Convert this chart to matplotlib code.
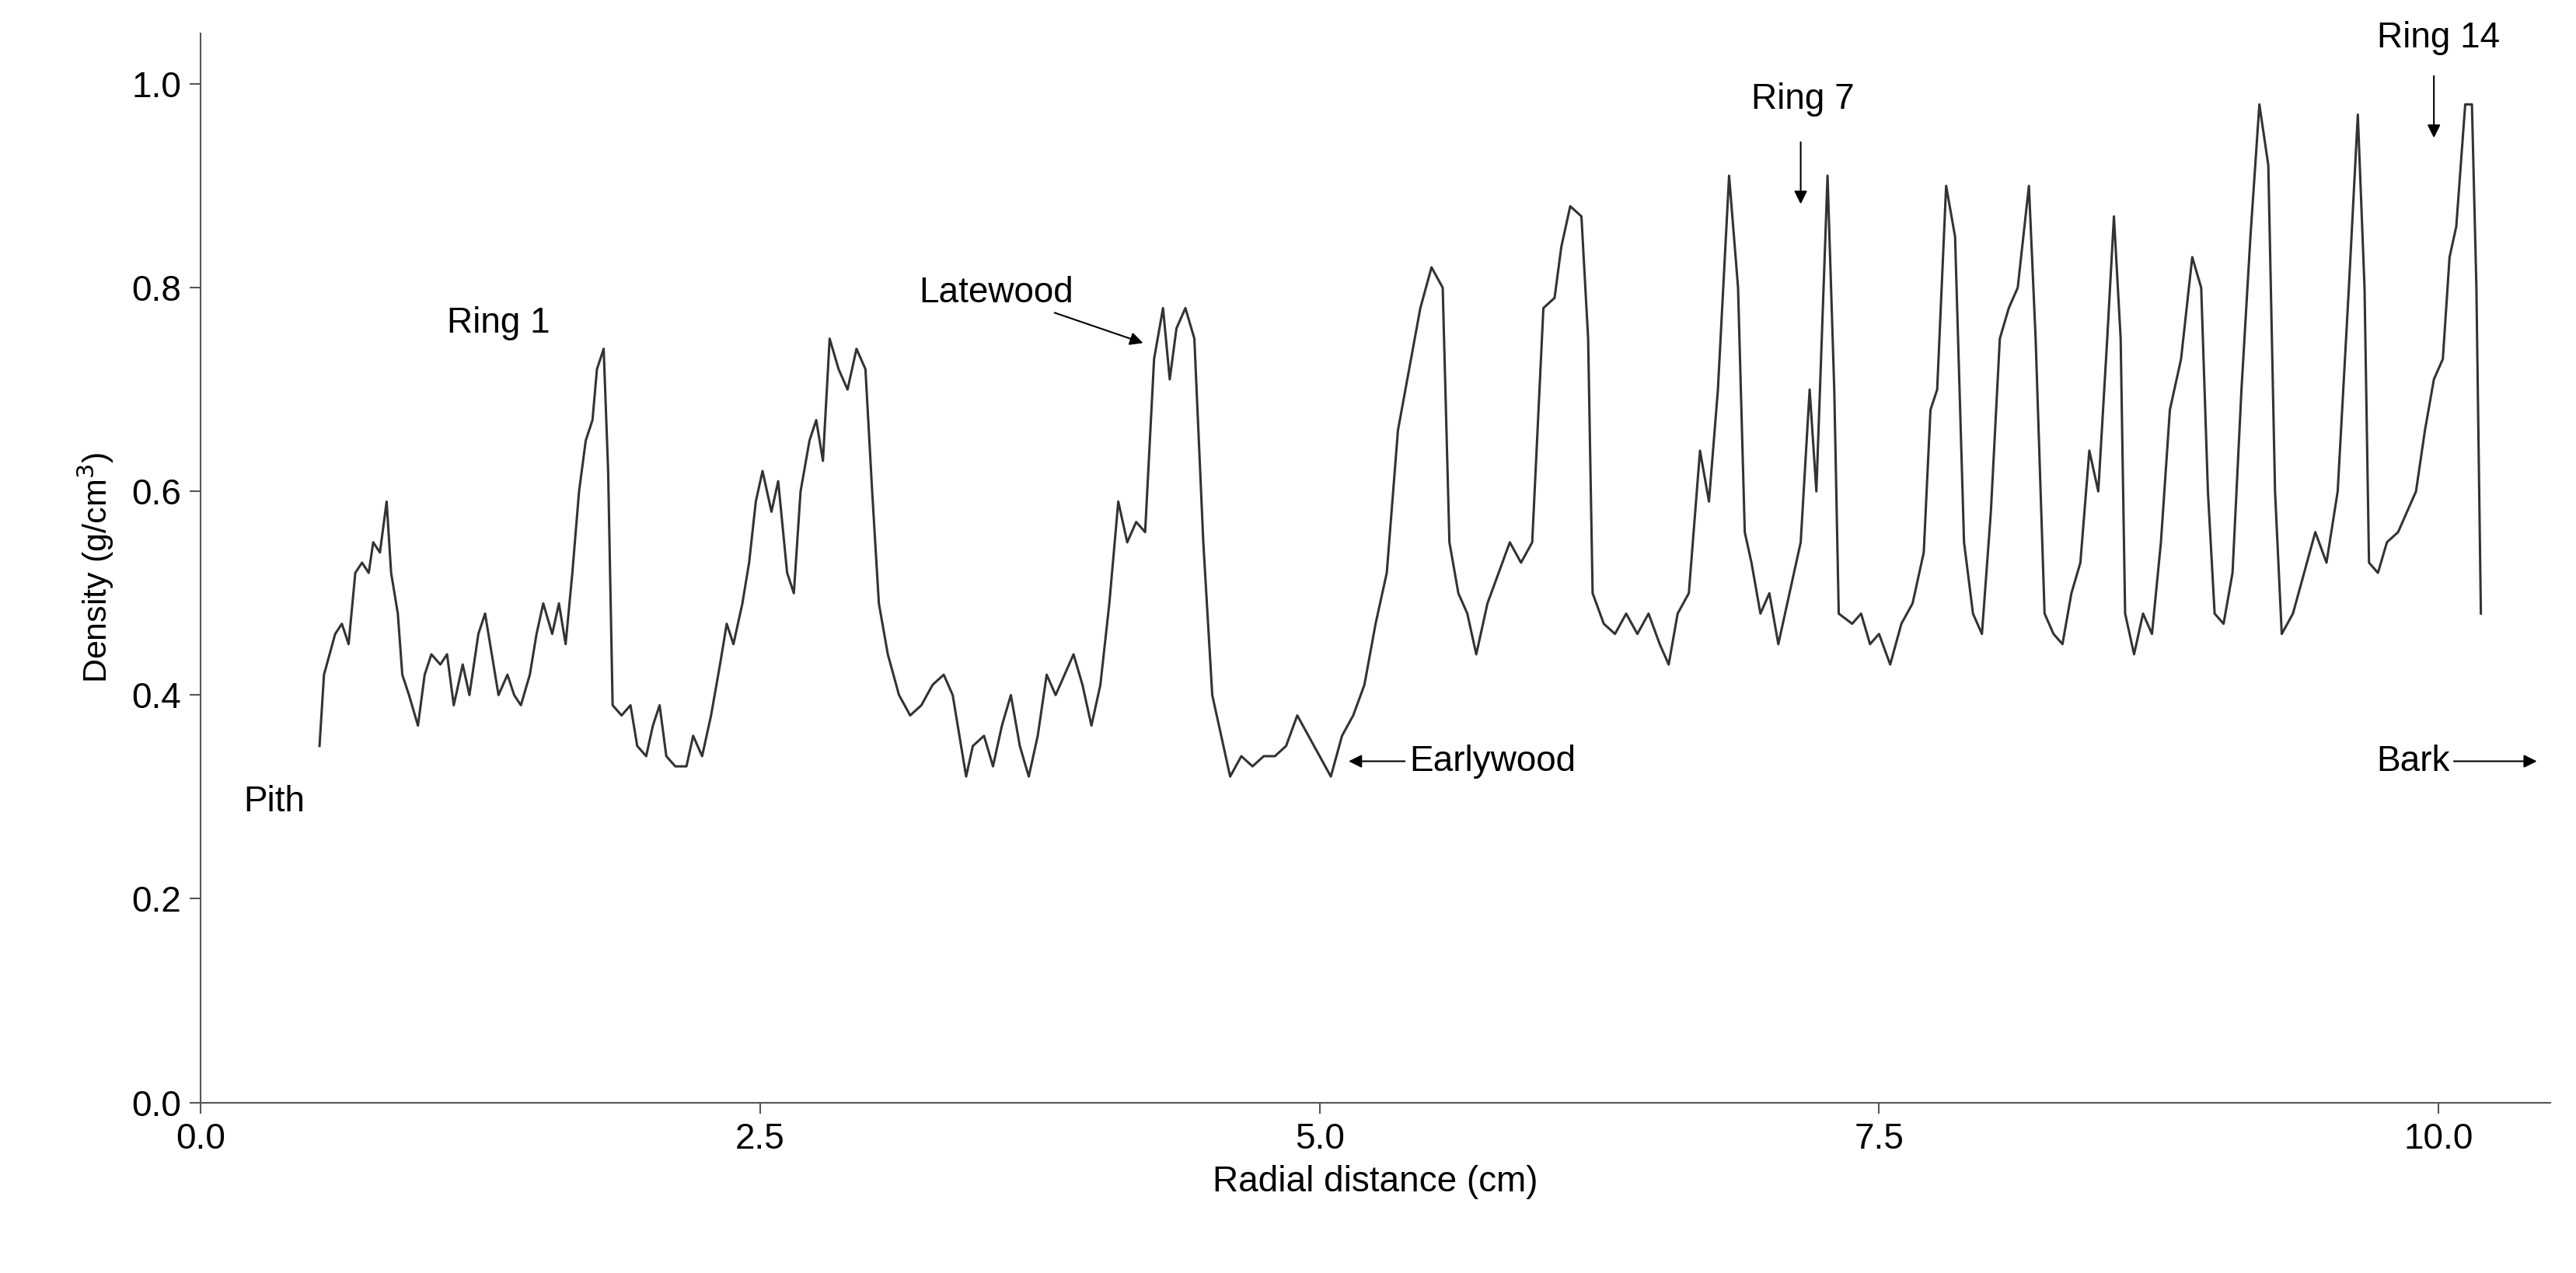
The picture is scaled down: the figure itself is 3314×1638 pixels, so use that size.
import matplotlib
matplotlib.use("Agg")
import matplotlib.pyplot as plt

x = [0.53,0.55,0.6,0.63,0.66,0.69,0.72,0.75,0.77,0.8,0.83,0.85,0.88,0.9,0.93,0.97,1.0,1.03,1.07,1.1,1.13,1.17,1.2,1.24,1.27,1.3,1.33,1.37,1.4,1.43,1.47,1.5,1.53,1.57,1.6,1.63,1.66,1.69,1.72,1.75,1.77,1.8,1.82,1.84,1.88,1.92,1.95,1.99,2.02,2.05,2.08,2.12,2.17,2.2,2.24,2.28,2.32,2.35,2.38,2.42,2.45,2.48,2.51,2.55,2.58,2.62,2.65,2.68,2.72,2.75,2.78,2.81,2.85,2.89,2.93,2.97,3.0,3.03,3.07,3.12,3.17,3.22,3.27,3.32,3.36,3.39,3.42,3.45,3.5,3.54,3.58,3.62,3.66,3.7,3.74,3.78,3.82,3.86,3.9,3.94,3.98,4.02,4.06,4.1,4.14,4.18,4.22,4.26,4.3,4.33,4.36,4.4,4.44,4.48,4.52,4.56,4.6,4.65,4.7,4.75,4.8,4.85,4.9,4.95,5.0,5.05,5.1,5.15,5.2,5.25,5.3,5.35,5.4,5.45,5.5,5.55,5.58,5.62,5.66,5.7,5.75,5.8,5.85,5.9,5.95,6.0,6.05,6.08,6.12,6.17,6.2,6.22,6.27,6.32,6.37,6.42,6.47,6.52,6.56,6.6,6.65,6.7,6.74,6.78,6.83,6.87,6.9,6.93,6.97,7.01,7.05,7.1,7.15,7.19,7.22,7.27,7.3,7.32,7.38,7.42,7.46,7.5,7.55,7.6,7.65,7.7,7.73,7.76,7.8,7.84,7.88,7.92,7.96,8.0,8.04,8.08,8.12,8.17,8.2,8.24,8.28,8.32,8.36,8.4,8.44,8.48,8.52,8.55,8.58,8.6,8.64,8.68,8.72,8.76,8.8,8.85,8.9,8.94,8.97,9.0,9.04,9.08,9.12,9.16,9.2,9.24,9.27,9.3,9.35,9.4,9.45,9.5,9.55,9.6,9.64,9.67,9.69,9.73,9.77,9.82,9.86,9.9,9.94,9.98,10.02,10.05,10.08,10.12,10.15,10.17,10.19]
density = [0.35,0.42,0.46,0.47,0.45,0.52,0.53,0.52,0.55,0.54,0.59,0.52,0.48,0.42,0.40,0.37,0.42,0.44,0.43,0.44,0.39,0.43,0.40,0.46,0.48,0.44,0.40,0.42,0.40,0.39,0.42,0.46,0.49,0.46,0.49,0.45,0.52,0.60,0.65,0.67,0.72,0.74,0.62,0.39,0.38,0.39,0.35,0.34,0.37,0.39,0.34,0.33,0.33,0.36,0.34,0.38,0.43,0.47,0.45,0.49,0.53,0.59,0.62,0.58,0.61,0.52,0.50,0.60,0.65,0.67,0.63,0.75,0.72,0.70,0.74,0.72,0.60,0.49,0.44,0.40,0.38,0.39,0.41,0.42,0.40,0.36,0.32,0.35,0.36,0.33,0.37,0.40,0.35,0.32,0.36,0.42,0.40,0.42,0.44,0.41,0.37,0.41,0.49,0.59,0.55,0.57,0.56,0.73,0.78,0.71,0.76,0.78,0.75,0.55,0.40,0.36,0.32,0.34,0.33,0.34,0.34,0.35,0.38,0.36,0.34,0.32,0.36,0.38,0.41,0.47,0.52,0.66,0.72,0.78,0.82,0.80,0.55,0.50,0.48,0.44,0.49,0.52,0.55,0.53,0.55,0.78,0.79,0.84,0.88,0.87,0.75,0.50,0.47,0.46,0.48,0.46,0.48,0.45,0.43,0.48,0.50,0.64,0.59,0.70,0.91,0.80,0.56,0.53,0.48,0.50,0.45,0.50,0.55,0.70,0.60,0.91,0.70,0.48,0.47,0.48,0.45,0.46,0.43,0.47,0.49,0.54,0.68,0.70,0.90,0.85,0.55,0.48,0.46,0.58,0.75,0.78,0.80,0.90,0.75,0.48,0.46,0.45,0.50,0.53,0.64,0.60,0.75,0.87,0.75,0.48,0.44,0.48,0.46,0.55,0.68,0.73,0.83,0.80,0.60,0.48,0.47,0.52,0.70,0.85,0.98,0.92,0.60,0.46,0.48,0.52,0.56,0.53,0.60,0.80,0.97,0.80,0.53,0.52,0.55,0.56,0.58,0.60,0.66,0.71,0.73,0.83,0.86,0.98,0.98,0.80,0.48]
xticks = [0.0, 2.5, 5.0, 7.5, 10.0]
yticks = [0.0, 0.2, 0.4, 0.6, 0.8, 1.0]

plt.rcParams['font.family'] = ['Liberation Sans', 'DejaVu Sans']
fig = plt.figure(figsize=(33.14, 16.38), dpi=100)
ax = fig.add_axes([0.078, 0.134, 0.912, 0.84])
ax.plot(x, density, color='#333333', lw=2.2)
ax.set_xlim(0, 10.5)
ax.set_ylim(0, 1.05)
ax.set_xticks(xticks)
ax.set_xticklabels([f"{v:.1f}" for v in xticks])
ax.set_yticks(yticks)
ax.set_yticklabels([f"{v:.1f}" for v in yticks])
for s in ['top', 'right']:
    ax.spines[s].set_visible(False)
for s in ['left', 'bottom']:
    ax.spines[s].set_color('#555555')
    ax.spines[s].set_linewidth(1.5)
ax.tick_params(labelsize=33, length=10, width=1.5, color='#555555', pad=8)
ax.set_xlabel('Radial distance (cm)', fontsize=33, labelpad=8)
ax.set_ylabel('Density (g/cm$^3$)', fontsize=31, labelpad=15)

fs = 33
ap = dict(arrowstyle='-|>', color='black', lw=1.5, mutation_scale=25)
ax.text(0.19, 0.295, 'Pith', fontsize=fs, va='center')
ax.text(1.1, 0.765, 'Ring 1', fontsize=fs, va='center')
ax.annotate('Latewood', xy=(4.22, 0.745), xytext=(3.9, 0.795), fontsize=fs,
            ha='right', va='center', arrowprops=ap)
ax.annotate('Earlywood', xy=(5.12, 0.335), xytext=(5.4, 0.335), fontsize=fs,
            ha='left', va='center', arrowprops=ap)
ax.text(7.16, 0.985, 'Ring 7', fontsize=fs, ha='center', va='center')
ax.annotate('', xy=(7.15, 0.88), xytext=(7.15, 0.945), arrowprops=ap)
ax.text(10.0, 1.045, 'Ring 14', fontsize=fs, ha='center', va='center', clip_on=False)
ax.annotate('', xy=(9.98, 0.945), xytext=(9.98, 1.01), arrowprops=ap)
ax.annotate('Bark', xy=(10.45, 0.335), xytext=(10.05, 0.335), fontsize=fs,
            ha='right', va='center', arrowprops=ap)
fig.savefig('out.png', dpi=100)
